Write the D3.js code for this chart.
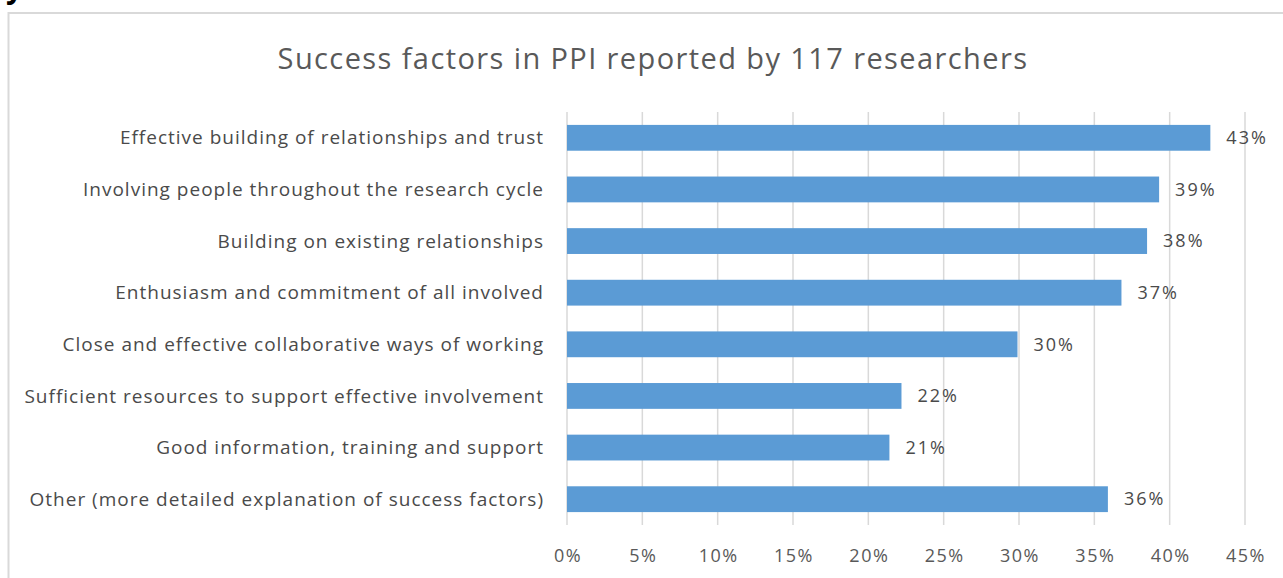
<!DOCTYPE html>
<html>
<head>
<meta charset="utf-8">
<script src="https://cdn.jsdelivr.net/npm/d3@7"></script>
<style>
  body { margin: 0; background: #fff; }
  svg { display: block; }
</style>
</head>
<body>
<svg width="1283" height="578"></svg>
<script>
const categories = [
  'Effective building of relationships and trust',
  'Involving people throughout the research cycle',
  'Building on existing relationships',
  'Enthusiasm and commitment of all involved',
  'Close and effective collaborative ways of working',
  'Sufficient resources to support effective involvement',
  'Good information, training and support',
  'Other (more detailed explanation of success factors)'
];
const values = [42.7, 39.3, 38.5, 36.8, 29.9, 22.2, 21.4, 35.9];
const valueLabels = ['43%', '39%', '38%', '37%', '30%', '22%', '21%', '36%'];
const ticks = [0, 5, 10, 15, 20, 25, 30, 35, 40, 45];
const title = 'Success factors in PPI reported by 117 researchers';

const font = '"Open Sans", Lato, sans-serif';
const svg = d3.select('svg');

// cropped heading fragment above the chart frame
svg.append('text')
  .attr('x', 6).attr('y', -2)
  .attr('font-family', font).attr('font-weight', 'bold')
  .attr('font-size', 30).attr('fill', '#000')
  .text('y');

// chart frame (right and bottom edges fall outside the window)
svg.append('rect')
  .attr('x', 8.5).attr('y', 13)
  .attr('width', 1290).attr('height', 600)
  .attr('fill', 'none').attr('stroke', '#d9d9d9').attr('stroke-width', 2);

svg.append('text')
  .attr('x', 653).attr('y', 69)
  .attr('text-anchor', 'middle')
  .attr('letter-spacing', 1.4)
  .attr('font-family', font).attr('font-size', 29).attr('fill', '#595959')
  .text(title);

const x = d3.scaleLinear().domain([0, 45]).range([567, 1245]);
const y = d3.scaleBand().domain(categories).range([112, 525]).paddingInner(0.5).paddingOuter(0.25);

// gridlines
svg.append('g')
  .selectAll('line')
  .data(ticks)
  .join('line')
  .attr('x1', d => x(d)).attr('x2', d => x(d))
  .attr('y1', 112).attr('y2', 525)
  .attr('stroke', '#d9d9d9').attr('stroke-width', 1.5);

// x tick labels
svg.append('g')
  .selectAll('text')
  .data(ticks)
  .join('text')
  .attr('x', d => x(d) + 1).attr('y', 562)
  .attr('text-anchor', 'middle')
  .attr('letter-spacing', 1.5)
  .attr('font-family', font).attr('font-size', 18).attr('fill', '#595959')
  .text(d => d + '%');

// bars
svg.append('g')
  .selectAll('rect')
  .data(values)
  .join('rect')
  .attr('x', x(0))
  .attr('y', (d, i) => y(categories[i]))
  .attr('width', d => x(d) - x(0))
  .attr('height', y.bandwidth())
  .attr('fill', '#5b9bd5');

// category labels
svg.append('g')
  .selectAll('text')
  .data(categories)
  .join('text')
  .attr('x', 544)
  .attr('y', d => y(d) + y.bandwidth() / 2)
  .attr('dy', '0.35em')
  .attr('text-anchor', 'end')
  .attr('letter-spacing', 1)
  .attr('font-family', font).attr('font-size', 19).attr('fill', '#4a4a4a')
  .text(d => d);

// value labels
svg.append('g')
  .selectAll('text')
  .data(values)
  .join('text')
  .attr('x', d => x(d) + 16)
  .attr('y', (d, i) => y(categories[i]) + y.bandwidth() / 2)
  .attr('dy', '0.35em')
  .attr('letter-spacing', 2)
  .attr('font-family', font).attr('font-size', 18).attr('fill', '#4a4a4a')
  .text((d, i) => valueLabels[i]);
</script>
</body>
</html>
